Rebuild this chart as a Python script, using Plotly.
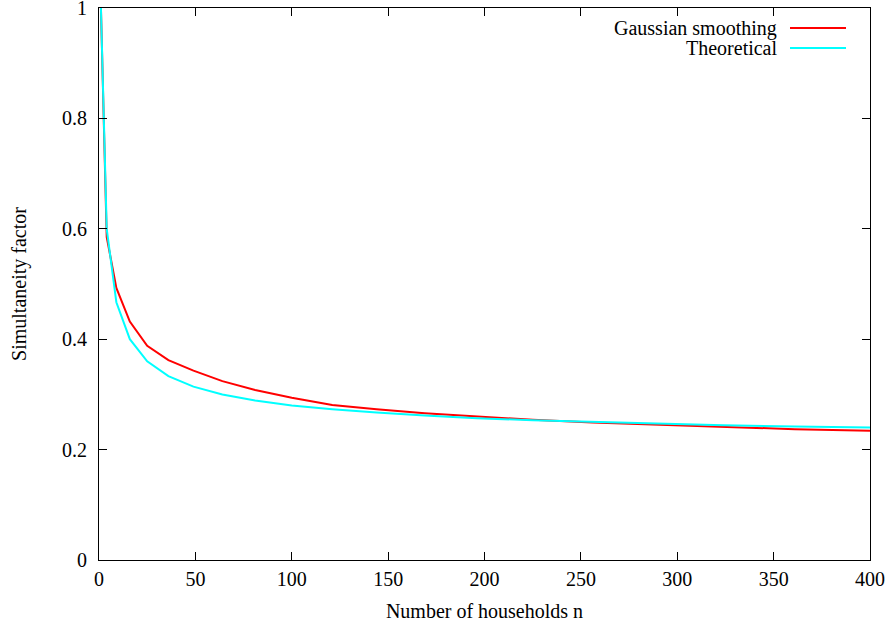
import plotly.graph_objects as go

# number of households
households = [1, 4, 9, 16, 25, 36, 49, 64, 81, 100, 121, 144, 169, 196, 225, 256, 289, 324, 361, 400]

# simultaneity factor
gaussian = [1.0, 0.585, 0.493, 0.432, 0.388, 0.362, 0.343, 0.324, 0.308, 0.294,
            0.281, 0.273, 0.266, 0.260, 0.254, 0.249, 0.245, 0.241, 0.237, 0.234]
theoretical = [1.0, 0.600, 0.467, 0.400, 0.360, 0.333, 0.314, 0.300, 0.289, 0.280,
               0.273, 0.267, 0.262, 0.257, 0.253, 0.250, 0.247, 0.244, 0.242, 0.240]

series_names = ["Gaussian smoothing", "Theoretical"]
series_colors = ["#ff0000", "#00ffff"]

x_ticks = [0, 50, 100, 150, 200, 250, 300, 350, 400]
y_ticks = [0, 0.2, 0.4, 0.6, 0.8, 1]
y_labels = ["0", "0.2", "0.4", "0.6", "0.8", "1"]

font = dict(family="Liberation Serif", size=20, color="black")

fig = go.Figure()
for name, ys, col in zip(series_names, [gaussian, theoretical], series_colors):
    fig.add_trace(go.Scatter(x=households, y=ys, mode="lines", name=name,
                             line=dict(color=col, width=2), showlegend=False))

# gnuplot style key: text right aligned, sample line to the right
for i, (name, col) in enumerate(zip(series_names, series_colors)):
    ypos = 1 - (20 + i * 20) / 552
    fig.add_annotation(x=(779 - 99) / 771, y=ypos, xref="paper", yref="paper",
                       text=name, showarrow=False, xanchor="right", yanchor="middle",
                       font=font)
    fig.add_shape(type="line", xref="paper", yref="paper",
                  x0=(790 - 99) / 771, x1=(846 - 99) / 771, y0=ypos, y1=ypos,
                  line=dict(color=col, width=2))

axis_common = dict(showgrid=False, zeroline=False, showline=True, linecolor="black",
                   linewidth=1, mirror="ticks", ticks="inside", ticklen=8,
                   tickcolor="black", tickfont=font, automargin=False,
                   ticklabeloverflow="allow")

fig.update_layout(
    width=891, height=626,
    margin=dict(l=99, r=21, t=8, b=66),
    paper_bgcolor="white", plot_bgcolor="white",
    font=font,
    xaxis=dict(range=[0, 400], tickvals=x_ticks, ticklabelstandoff=1,
               title=dict(text="Number of households n", font=font, standoff=14),
               **axis_common),
    yaxis=dict(range=[0, 1], tickvals=y_ticks, ticktext=y_labels, ticklabelstandoff=7,
               title=dict(text="Simultaneity factor", font=font, standoff=30),
               **axis_common),
)

# drop the default 8px body margin so the figure fills the window
fig.write_html("out.html", config={"displayModeBar": False},
               post_script="document.body.style.margin='0';")
